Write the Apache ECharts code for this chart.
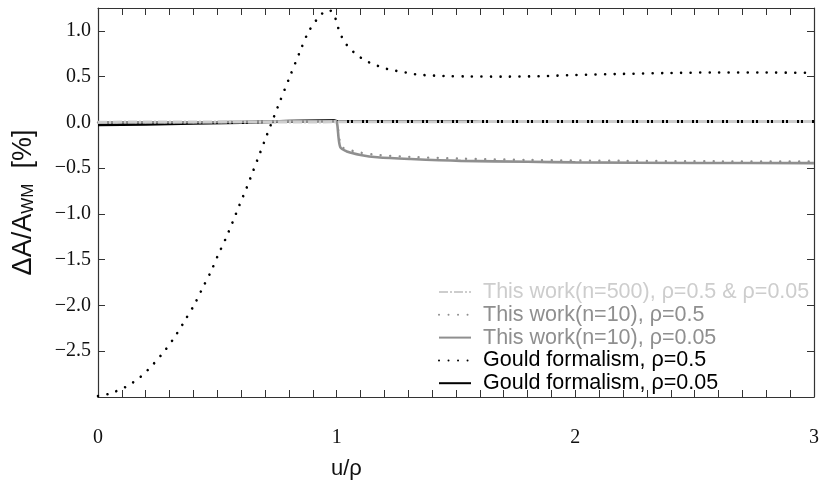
<!DOCTYPE html>
<html><head><meta charset="utf-8">
<script src="https://cdn.jsdelivr.net/npm/echarts/dist/echarts.min.js"></script>
<style>html,body{margin:0;padding:0;background:#fff}#c{width:822px;height:487px}</style>
</head><body><div id="c"></div>
<script>
// ---- data ----
const legendNames = [
  'This work(n=500), ρ=0.5 & ρ=0.05',
  'This work(n=10), ρ=0.5',
  'This work(n=10), ρ=0.05',
  'Gould formalism, ρ=0.5',
  'Gould formalism, ρ=0.05'
];
const xTickValues = [0, 1, 2, 3];
const yTickValues = [-2.5, -2.0, -1.5, -1.0, -0.5, 0.0, 0.5, 1.0];

// Gould formalism, rho = 0.5 (black dotted)
const gould05X = [0.0, 0.046, 0.116, 0.178, 0.232, 0.281, 0.325, 0.365, 0.404, 0.438, 0.473, 0.503, 0.535, 0.564, 0.593, 0.622, 0.650, 0.678, 0.705, 0.760, 0.802, 0.846, 0.880, 0.916, 0.941, 0.970, 0.992, 1.003, 1.016, 1.034, 1.058, 1.087, 1.118, 1.154, 1.189, 1.226, 1.262, 1.301, 1.339, 1.378, 1.416, 1.453, 1.55, 1.70, 1.85, 2.0, 2.2, 2.4, 2.6, 2.8, 3.0];
const gould05Y = [-2.99, -2.965, -2.89, -2.78, -2.64, -2.49, -2.33, -2.16, -1.99, -1.81, -1.63, -1.45, -1.27, -1.09, -0.90, -0.72, -0.53, -0.34, -0.155, 0.214, 0.489, 0.772, 0.98, 1.122, 1.193, 1.225, 1.155, 1.061, 0.966, 0.876, 0.80, 0.734, 0.679, 0.635, 0.603, 0.573, 0.559, 0.540, 0.522, 0.515, 0.510, 0.507, 0.502, 0.500, 0.505, 0.518, 0.530, 0.540, 0.546, 0.545, 0.541];

// Gould formalism, rho = 0.05 (black solid)
const gould005X = [0.0, 0.2, 0.4, 0.6, 0.8, 0.99, 1.0, 1.1, 2.0, 3.0];
const gould005Y = [-0.025, -0.02, -0.01, 0.0, 0.012, 0.02, 0.01, 0.009, 0.009, 0.009];

// This work (n=10), rho = 0.05 (gray solid)
const work10r005X = [0.0, 0.5, 0.99, 1.0, 1.015, 1.046, 1.10, 1.17, 1.31, 1.52, 1.80, 2.0, 2.5, 3.0];
const work10r005Y = [0.0, 0.005, 0.015, 0.01, -0.27, -0.32, -0.355, -0.38, -0.40, -0.42, -0.43, -0.437, -0.443, -0.445];

// This work (n=10), rho = 0.5 (gray dotted)
const work10r05X = [0.0, 0.5, 0.99, 1.0, 1.02, 1.067, 1.10, 1.17, 1.31, 1.52, 1.80, 2.2, 2.6, 3.0];
const work10r05Y = [0.0, 0.003, 0.01, 0.005, -0.26, -0.31, -0.33, -0.355, -0.377, -0.395, -0.41, -0.42, -0.425, -0.428];

// This work (n=500), rho = 0.5 & 0.05 (light gray dash-dot)
const work500X = [0.0, 0.5, 0.99, 1.0, 2.0, 3.0];
const work500Y = [0.003, 0.004, 0.006, 0.008, 0.009, 0.009];

// ---- build ----
function zip(xs, ys) { return xs.map((x, i) => [x, ys[i]]); }

const colBlack = '#000000', colGray = '#8f8f8f', colLight = '#cdcdcd';
const axisColor = '#333';

function mkX(pos, showLabel) {
  return {
    type: 'value', min: 0, max: 3, interval: 1, position: pos,
    axisLine: { show: true, onZero: false, lineStyle: { color: axisColor, width: 1.2 } },
    axisTick: { show: true, inside: true, length: 7, lineStyle: { color: axisColor, width: 1 } },
    minorTick: { show: true, splitNumber: 10, length: 7, lineStyle: { color: axisColor, width: 1 } },
    splitLine: { show: false },
    axisLabel: { show: showLabel, fontFamily: 'Liberation Serif', fontSize: 20, color: '#111', margin: 31,
      formatter: v => xTickValues.includes(v) ? String(v) : '' }
  };
}
function mkY(pos, showLabel) {
  return {
    type: 'value', min: -3, max: 1.25, interval: 0.5, position: pos,
    axisLine: { show: true, onZero: false, lineStyle: { color: axisColor, width: 1.2 } },
    axisTick: { show: true, inside: true, length: 7, lineStyle: { color: axisColor, width: 1 } },
    splitLine: { show: false },
    axisLabel: { show: showLabel, showMinLabel: false, showMaxLabel: false,
      fontFamily: 'Liberation Serif', fontSize: 20, color: '#111', margin: 7,
      formatter: v => {
        const hit = yTickValues.find(t => Math.abs(t - v) < 1e-6);
        if (hit === undefined) return '';
        return hit.toFixed(1).replace('-', '\u2212');
      } }
  };
}

const chart = echarts.init(document.getElementById('c'), null, { renderer: 'canvas' });
const option = {
  animation: false,
  backgroundColor: '#fff',
  grid: { left: 98, right: 5, top: 8, bottom: 90 },
  xAxis: [mkX('bottom', true), mkX('top', false)],
  yAxis: [
    Object.assign(mkY('left', true), {
      name: '{a|ΔA/A}{b|WM}{a|  [%]}', nameLocation: 'middle', nameRotate: 90, nameGap: 61,
      nameTextStyle: { rich: {
        a: { fontFamily: 'Liberation Sans', fontSize: 27, color: '#111' },
        b: { fontFamily: 'Liberation Sans', fontSize: 17, color: '#111', verticalAlign: 'bottom' }
      } }
    }),
    mkY('right', false)
  ],
  legend: {
    orient: 'vertical', left: 438, top: 281, padding: 0,
    itemWidth: 32, itemHeight: 12, itemGap: 0.8,
    itemStyle: { opacity: 0 },
    textStyle: { fontFamily: 'Liberation Sans', fontSize: 21.5, lineHeight: 20, padding: [0, 0, 0, 7] },
    data: [
      { name: legendNames[0], textStyle: { color: colLight } },
      { name: legendNames[1], textStyle: { color: colGray } },
      { name: legendNames[2], textStyle: { color: colGray } },
      { name: legendNames[3], textStyle: { color: colBlack } },
      { name: legendNames[4], textStyle: { color: colBlack } }
    ]
  },
  graphic: [{
    type: 'text', left: 331, top: 458,
    style: { text: 'u/ρ', font: '22px "Liberation Sans"', fill: '#111' }
  }],
  series: [
    { name: legendNames[4], type: 'line', data: zip(gould005X, gould005Y), showSymbol: false, symbol: 'none', smooth: false,
      lineStyle: { color: colBlack, width: 3 }, itemStyle: { color: colBlack } },
    { name: legendNames[3], type: 'line', data: zip(gould05X, gould05Y), showSymbol: false, symbol: 'none', smooth: 0.3,
      lineStyle: { color: colBlack, width: 2.6, type: [0.01, 9.5], cap: 'round' }, itemStyle: { color: colBlack } },
    { name: legendNames[2], type: 'line', data: zip(work10r005X, work10r005Y), showSymbol: false, symbol: 'none', smooth: 0.3,
      lineStyle: { color: colGray, width: 2.6 }, itemStyle: { color: colGray } },
    { name: legendNames[1], type: 'line', data: zip(work10r05X, work10r05Y), showSymbol: false, symbol: 'none', smooth: 0.3,
      lineStyle: { color: colGray, width: 2.4, type: [0.01, 9.5], cap: 'round' }, itemStyle: { color: colGray } },
    { name: legendNames[0], type: 'line', data: zip(work500X, work500Y), showSymbol: false, symbol: 'none',
      lineStyle: { color: colLight, width: 3, type: [9, 2, 2, 2] }, itemStyle: { color: colLight } }
  ]
};
chart.setOption(option);
</script>
</body></html>
